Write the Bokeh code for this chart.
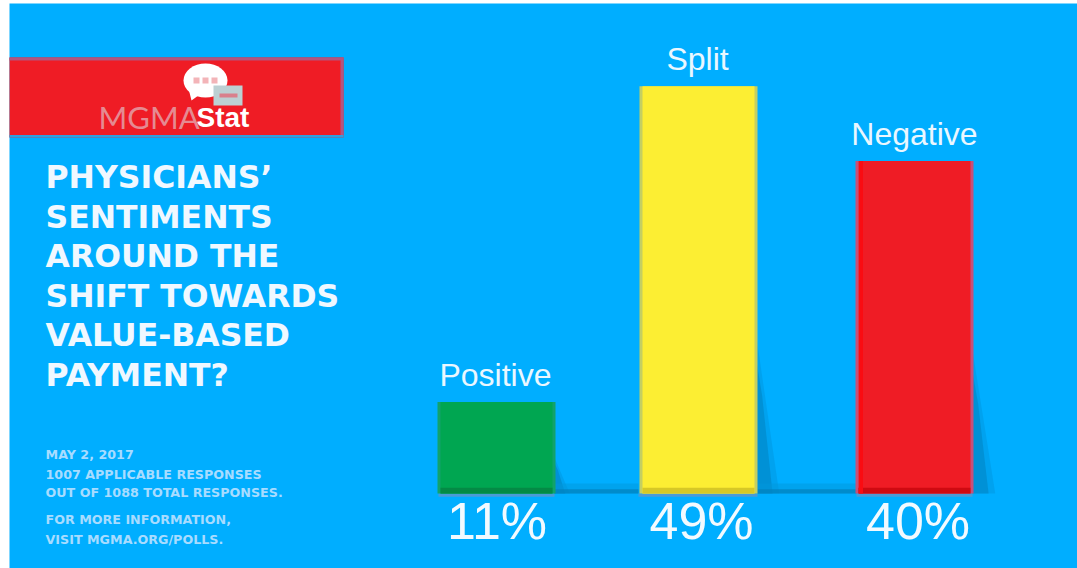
from bokeh.embed import file_html
from bokeh.models import ColumnDataSource, Range1d
from bokeh.plotting import figure
from bokeh.resources import INLINE
from bokeh.core.properties import value

categories = ["Positive", "Split", "Negative"]
percents = [11, 49, 40]
bar_colors = ["#00A651", "#FCEE33", "#EF1C25"]
bar_edges = ["#12A26A", "#C4CF62", "#C8507A"]
bar_feet = ["#048A45", "#D6C826", "#CF0A12"]
centers = [496, 698, 914]
pct_centers = [496.5, 701, 917.5]
name_centers = [495, 697, 914]
shadow_heights = [4.6, 19.6, 18.0]
shadow_reach = [13, 19, 19]
title_lines = ["PHYSICIANS’", "SENTIMENTS", "AROUND THE", "SHIFT TOWARDS", "VALUE-BASED", "PAYMENT?"]
note_lines = ["MAY 2, 2017", "1007 APPLICABLE RESPONSES", "OUT OF 1088 TOTAL RESPONSES.",
              "FOR MORE INFORMATION,", "VISIT MGMA.ORG/POLLS."]

WIDTH, HEIGHT = 1077, 568
BASE = 493          # pixel row of the bar baseline
PX_PER_PCT = 8.31   # vertical scale of the bars
BAR_W = 116

p = figure(width=WIDTH, height=HEIGHT, output_backend="svg", toolbar_location=None,
           x_range=Range1d(0, WIDTH),
           y_range=Range1d(-(HEIGHT - BASE) / PX_PER_PCT, BASE / PX_PER_PCT),
           min_border=0, background_fill_color="white", border_fill_color="white", outline_line_color=None)
p.axis.visible = False
p.grid.visible = False
p.extra_y_ranges = {"px": Range1d(HEIGHT, 0)}

# page background and header banner, positioned in pixel rows
p.quad(left=9, right=WIDTH, top=3, bottom=HEIGHT, y_range_name="px", color="#00AEFF", line_color=None)
p.quad(left=9, right=343, top=57, bottom=137, y_range_name="px", fill_color="#EF1C25", line_color=None)
p.quad(left=9, right=343, top=57, bottom=60, y_range_name="px", color="#B4547F", line_color=None)
p.quad(left=340, right=343, top=57, bottom=136, y_range_name="px", color="#B4547F", line_color=None)
p.quad(left=9, right=343, top=134.5, bottom=137, y_range_name="px", color="#2E9FE0", line_color=None)

# speech-bubble logo mark
p.ellipse(x=[205], y=[80], width=[44], height=[34], y_range_name="px", color="white", line_color=None)
p.patch(x=[188, 202, 191], y=[88, 92, 100], y_range_name="px", color="white", line_color=None)
p.quad(left=[193, 202, 211], right=[199, 208, 217], top=[77, 77, 77], bottom=[83, 83, 83], y_range_name="px",
       color="#F3B4B8", line_color=None)
p.quad(left=[213], right=[242], top=[85], bottom=[105], y_range_name="px", color="#BCD0D3", line_color=None)
p.quad(left=[219], right=[237], top=[93], bottom=[97], y_range_name="px", color="#D9808C", line_color=None)
p.text(x=[98], y=[116], text=["MGMA"], y_range_name="px", text_font=value("Lato"),
       text_font_size="31px", text_color="#E58A92", text_align="left", text_baseline="alphabetic")
p.text(x=[196], y=[117], text=["Stat"], y_range_name="px", text_font=value("Liberation Sans"),
       text_font_size="28px", text_color="white", text_align="left", text_baseline="alphabetic",
       text_font_style="bold")

# headline
title_rows = [176, 216, 255, 295, 334, 374]
p.text(x=[45] * 6, y=title_rows, text=title_lines, y_range_name="px", text_font=value("DejaVu Sans"),
       text_font_size="31.5px", text_font_style="bold", text_color="#F0F8FF",
       text_align="left", text_baseline="alphabetic")

# footnotes
note_rows = [454, 474, 492, 519, 539]
p.text(x=[45] * 5, y=note_rows, text=note_lines, y_range_name="px", text_font=value("DejaVu Sans"),
       text_font_size="12.7px", text_color="#A8DCFF", text_font_style="bold",
       text_align="left", text_baseline="alphabetic")

# cast shadows behind the bars, a wide soft layer under a narrower darker one
for c, h, r in zip(centers, shadow_heights, shadow_reach):
    right = c + BAR_W / 2 - 1
    p.patch(x=[right, right + r * 0.5, right + r * 1.25, right], y=[h, h * 0.6, 0, 0],
            color="#0090D8", alpha=0.4, line_color=None)
    p.patch(x=[right, right + r * 0.35, right + r * 0.9, right], y=[h * 0.85, h * 0.6, 0, 0],
            color="#0088C8", alpha=0.65, line_color=None)
p.quad(left=[554, 757], right=[638, 856], top=[1.2, 1.2], bottom=[0, 0], color="#0098DC", line_color=None, alpha=0.5)
p.quad(left=[554, 757], right=[638, 856], top=[0.5, 0.5], bottom=[0, 0], color="#0080BC", line_color=None, alpha=0.7)
p.quad(left=[438, 638, 856], right=[554, 757, 972], top=[0, 0, 0], bottom=[-0.4, -0.4, -0.4],
       color="#4A9BD8", line_color=None)

# the bars
src = ColumnDataSource(dict(x=centers, top=percents, color=bar_colors, edge=bar_edges, foot=bar_feet,
                            name=categories, pct=[f"{v}%" for v in percents],
                            px=pct_centers, nx=name_centers))
p.vbar(x="x", top="top", bottom=0, width=BAR_W + 2, source=src, color="edge", line_color=None)
p.vbar(x="x", top="top", bottom=0, width=BAR_W - 4, source=src, color="color", line_color=None)
p.vbar(x="x", top=0.7, bottom=0, width=BAR_W - 4, source=src, color="foot", line_color=None)
p.vbar(x=[centers[2] - BAR_W / 2 + 4.5], top=[percents[2]], bottom=0, width=4, color="#FA0C12", line_color=None)

# category names above the bars, percentages below the baseline
p.text(x="nx", y="top", text="name", source=src, y_offset=-27, text_font=value("Liberation Sans"),
       text_font_size="32px", text_color="#EAF7FF", text_align="center", text_baseline="alphabetic",
       text_line_height=1.0)
p.text(x="px", y=0, text="pct", source=src, y_offset=27, text_font=value("Liberation Sans"),
       text_font_size="52px", text_color="#F2FAFF", text_align="center", text_baseline="alphabetic")

open("out.html", "w").write(file_html(p, INLINE))
